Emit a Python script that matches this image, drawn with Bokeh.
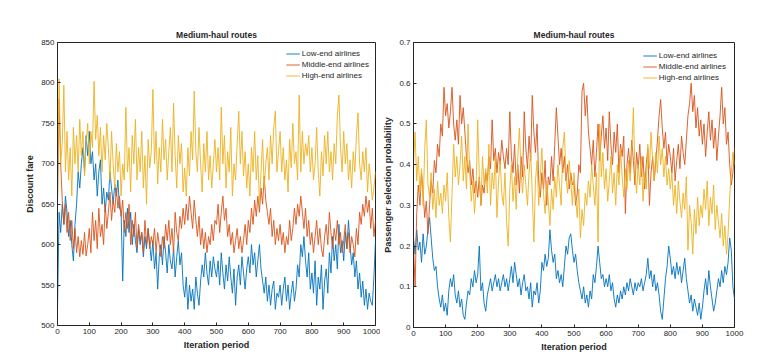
from bokeh.plotting import figure
from bokeh.layouts import row
from bokeh.models import Range1d, FixedTicker, NumeralTickFormatter
from bokeh.embed import file_html
from bokeh.resources import INLINE

# iteration grid (every 5 iterations)
iterations = list(range(0, 1001, 5))

# ---------- Left panel: discount fare ----------
fare_low = [
    520, 640, 615, 650, 625, 660, 640, 610, 630, 600, 580, 625, 650, 690, 670, 700, 720, 690, 735, 710,
    740, 700, 715, 680, 700, 660, 690, 705, 650, 670, 640, 665, 655, 690, 670, 650, 675, 660, 680, 645,
    640, 555, 630, 610, 645, 615, 640, 600, 625, 605, 590, 620, 600, 615, 585, 610, 595, 620, 600, 580,
    605, 570, 590, 545, 585, 600, 575, 610, 590, 565, 600, 580, 570, 595, 560, 585, 605, 575, 590, 550,
    535, 560, 520, 550, 530, 545, 520, 560, 540, 525, 555, 575, 560, 590, 565, 550, 580, 560, 585, 570,
    560, 580, 550, 590, 565, 545, 575, 555, 585, 560, 540, 570, 525, 560, 575, 550, 585, 565, 545, 570,
    585, 565, 600, 575, 590, 560, 580, 600, 570, 555, 540, 560, 530, 550, 525, 545, 555, 520, 540, 535,
    550, 525, 545, 560, 530, 550, 520, 540, 555, 530, 545, 575, 560, 600, 585, 610, 580, 560, 590, 545,
    565, 540, 580, 525, 560, 545, 575, 520, 555, 570, 540, 590, 565, 610, 580, 600, 570, 625, 590, 605,
    580, 615, 595, 630, 600, 575, 590, 560, 580, 545, 565, 535, 555, 525, 545, 520, 540, 530, 525, 560,
    605,
]
fare_mid = [
    650, 780, 700, 655, 625, 650, 615, 640, 605, 630, 595, 620, 590, 610, 585, 605, 588, 615, 586, 600,
    620, 590, 640, 605, 630, 595, 645, 610, 625, 600, 650, 620, 640, 665, 630, 655, 640, 670, 645, 660,
    635, 655, 615, 640, 620, 650, 600, 630, 610, 640, 595, 625, 605, 615, 590, 630, 600, 620, 595, 610,
    600, 620, 590, 615, 600, 585, 610, 595, 625, 605, 630, 600, 620, 590, 640, 615, 605, 635, 620, 645,
    625, 650, 630, 660, 640, 620, 655, 630, 610, 635, 600, 620, 595, 615, 590, 610, 600, 625, 605, 630,
    625, 650, 615, 640, 660, 630, 645, 610, 625, 600, 615, 590, 605, 620, 595, 610, 590, 605, 625, 600,
    630, 615, 645, 625, 655, 635, 660, 640, 670, 650, 685, 655, 640, 625, 645, 610, 630, 600, 620, 605,
    625, 600, 615, 590, 610, 600, 630, 605, 620, 645, 625, 650, 635, 660, 640, 620, 645, 610, 630, 600,
    615, 590, 610, 630, 600, 620, 595, 585, 610, 625, 600, 640, 615, 595, 620, 605, 630, 600, 615, 590,
    605, 625, 595, 615, 590, 610, 600, 585, 620, 600, 640, 625, 650, 635, 660, 640, 655, 620, 645, 610,
    630,
]
fare_high = [
    660, 805, 700, 725, 797, 690, 740, 680, 720, 660, 745, 700, 735, 690, 755, 710, 740, 685, 725, 750,
    700, 740, 720, 802, 730, 760, 710, 745, 690, 735, 705, 750, 720, 680, 740, 700, 670, 725, 690, 715,
    660, 700, 680, 770, 690, 720, 665, 735, 700, 755, 680, 720, 690, 740, 670, 710, 650, 730, 695, 715,
    792, 700, 740, 675, 720, 690, 755, 705, 730, 680, 715, 745, 690, 775, 710, 670, 735, 700, 725, 665,
    695, 660, 720, 685, 740, 705, 790, 715, 690, 745, 700, 665, 725, 690, 740, 680, 710, 670, 700, 730,
    690, 720, 680, 770, 700, 735, 670, 715, 690, 745, 660, 700, 680, 725, 765, 700, 740, 685, 715, 670,
    700, 660, 720, 690, 740, 680, 710, 650, 690, 730, 670, 700, 720, 680, 735, 700, 745, 765, 690, 715,
    740, 690, 720, 680, 705, 665, 730, 695, 750, 700, 715, 680, 785, 690, 740, 700, 725, 710, 735, 690,
    720, 680, 700, 745, 690, 660, 715, 685, 735, 700, 740, 690, 715, 680, 725, 700, 760, 785, 720, 690,
    740, 700, 725, 680, 705, 670, 715, 690, 735, 763, 700, 680, 715, 690, 720, 665, 700, 680, 655, 670,
    690,
]

# ---------- Right panel: passenger selection probability ----------
prob_low = [
    0.22, 0.18, 0.24, 0.19, 0.21, 0.16, 0.23, 0.18, 0.20, 0.24, 0.27, 0.22, 0.17, 0.14, 0.15, 0.10, 0.07, 0.05, 0.08, 0.04,
    0.06, 0.03, 0.09, 0.12, 0.10, 0.13, 0.08, 0.06, 0.09, 0.05, 0.07, 0.03, 0.02, 0.06, 0.09, 0.08, 0.12, 0.10, 0.14, 0.11,
    0.13, 0.20, 0.09, 0.11, 0.06, 0.04, 0.08, 0.10, 0.12, 0.09, 0.11, 0.13, 0.10, 0.12, 0.09, 0.11, 0.13, 0.10, 0.12, 0.09,
    0.12, 0.15, 0.11, 0.16, 0.13, 0.10, 0.12, 0.08, 0.11, 0.13, 0.09, 0.10, 0.07, 0.11, 0.05, 0.09, 0.08, 0.11, 0.06, 0.09,
    0.16, 0.14, 0.18, 0.15, 0.17, 0.24, 0.19, 0.16, 0.18, 0.12, 0.14, 0.11, 0.13, 0.10, 0.15, 0.20, 0.18, 0.22, 0.23, 0.19,
    0.16, 0.18, 0.14, 0.11, 0.09, 0.07, 0.10, 0.06, 0.08, 0.05, 0.09, 0.07, 0.13, 0.11, 0.15, 0.20, 0.16, 0.12, 0.13, 0.10,
    0.12, 0.10, 0.13, 0.09, 0.11, 0.07, 0.05, 0.08, 0.06, 0.09, 0.07, 0.10, 0.08, 0.11, 0.09, 0.12, 0.10, 0.08, 0.11, 0.09,
    0.11, 0.10, 0.12, 0.09, 0.11, 0.13, 0.17, 0.12, 0.14, 0.10, 0.13, 0.09, 0.11, 0.08, 0.04, 0.02, 0.07, 0.12, 0.15, 0.20,
    0.17, 0.13, 0.15, 0.12, 0.16, 0.13, 0.15, 0.11, 0.14, 0.17, 0.12, 0.09, 0.06, 0.08, 0.04, 0.07, 0.05, 0.03, 0.06, 0.02,
    0.05, 0.09, 0.12, 0.08, 0.14, 0.10, 0.07, 0.04, 0.06, 0.09, 0.12, 0.10, 0.14, 0.11, 0.15, 0.13, 0.16, 0.22, 0.19, 0.10,
    0.07,
]
prob_mid = [
    0.20, 0.10, 0.28, 0.35, 0.30, 0.38, 0.33, 0.27, 0.31, 0.23, 0.30, 0.36, 0.33, 0.41, 0.38, 0.45, 0.42, 0.50, 0.47, 0.59,
    0.52, 0.55, 0.49, 0.53, 0.59, 0.50, 0.46, 0.51, 0.45, 0.57, 0.50, 0.54, 0.48, 0.42, 0.38, 0.41, 0.35, 0.39, 0.33, 0.36,
    0.32, 0.37, 0.30, 0.35, 0.33, 0.38, 0.36, 0.42, 0.39, 0.51, 0.41, 0.44, 0.38, 0.43, 0.40, 0.46, 0.42, 0.39, 0.44, 0.40,
    0.53, 0.42, 0.38, 0.45, 0.35, 0.40, 0.33, 0.42, 0.37, 0.53, 0.44, 0.39, 0.47, 0.41, 0.57, 0.48, 0.43, 0.50, 0.36, 0.32,
    0.38, 0.34, 0.41, 0.30, 0.37, 0.35, 0.42, 0.36, 0.45, 0.54, 0.47, 0.40, 0.44, 0.38, 0.42, 0.36, 0.40, 0.34, 0.38, 0.35,
    0.36, 0.30, 0.33, 0.40, 0.38, 0.58, 0.60, 0.52, 0.57, 0.48, 0.44, 0.40, 0.46, 0.37, 0.43, 0.50, 0.41, 0.47, 0.52, 0.44,
    0.49, 0.41, 0.53, 0.45, 0.40, 0.48, 0.43, 0.50, 0.38, 0.45, 0.42, 0.47, 0.28, 0.40, 0.44, 0.38, 0.46, 0.41, 0.35, 0.43,
    0.39, 0.45, 0.37, 0.42, 0.34, 0.40, 0.44, 0.30, 0.38, 0.42, 0.36, 0.41, 0.46, 0.52, 0.56, 0.49, 0.44, 0.48, 0.40, 0.45,
    0.42, 0.38, 0.44, 0.36, 0.41, 0.45, 0.39, 0.47, 0.43, 0.40, 0.46, 0.52, 0.55, 0.60, 0.53, 0.57, 0.49, 0.54, 0.47, 0.51,
    0.45, 0.50, 0.42, 0.48, 0.53, 0.46, 0.51, 0.44, 0.49, 0.41, 0.47, 0.52, 0.59, 0.50, 0.54, 0.45, 0.48, 0.40, 0.35, 0.38,
    0.44,
]
prob_high = [
    0.40, 0.48, 0.36, 0.42, 0.33, 0.39, 0.30, 0.44, 0.51, 0.35, 0.32, 0.38, 0.29, 0.34, 0.27, 0.36, 0.30, 0.33, 0.28, 0.35,
    0.31, 0.38, 0.27, 0.21, 0.33, 0.45, 0.37, 0.42, 0.35, 0.40, 0.47, 0.36, 0.42, 0.34, 0.50, 0.38, 0.31, 0.36, 0.28, 0.34,
    0.51, 0.37, 0.30, 0.42, 0.35, 0.39, 0.33, 0.45, 0.30, 0.38, 0.34, 0.42, 0.27, 0.36, 0.41, 0.33, 0.30, 0.38, 0.26, 0.20,
    0.34, 0.40, 0.31, 0.37, 0.29, 0.42, 0.49, 0.38, 0.33, 0.40, 0.35, 0.30, 0.38, 0.43, 0.33, 0.21, 0.36, 0.41, 0.30, 0.37,
    0.44, 0.33, 0.28, 0.36, 0.31, 0.25, 0.34, 0.29, 0.37, 0.32, 0.40, 0.35, 0.30, 0.44, 0.48, 0.37, 0.33, 0.41, 0.36, 0.30,
    0.38, 0.32, 0.27, 0.34, 0.22, 0.29, 0.25, 0.33, 0.30, 0.36, 0.32, 0.40, 0.35, 0.30, 0.38, 0.21, 0.50, 0.37, 0.43, 0.34,
    0.39, 0.31, 0.36, 0.42, 0.33, 0.38, 0.30, 0.40, 0.35, 0.44, 0.37, 0.32, 0.39, 0.34, 0.41, 0.36, 0.43, 0.54, 0.38, 0.33,
    0.40, 0.35, 0.42, 0.31, 0.38, 0.34, 0.45, 0.39, 0.48, 0.41, 0.36, 0.43, 0.38, 0.47, 0.40, 0.44, 0.37, 0.42, 0.35, 0.39,
    0.34, 0.38, 0.30, 0.35, 0.28, 0.36, 0.31, 0.27, 0.33, 0.29, 0.37, 0.19, 0.30, 0.26, 0.18, 0.29, 0.23, 0.32, 0.25, 0.30,
    0.27, 0.34, 0.29, 0.36, 0.25, 0.32, 0.28, 0.35, 0.24, 0.30, 0.26, 0.22, 0.28, 0.20, 0.25, 0.18, 0.23, 0.32, 0.38, 0.43,
    0.40,
]

series_names = ["Low-end airlines", "Middle-end airlines", "High-end airlines"]
colors = ["#0072BD", "#D95319", "#EDB120"]
x_ticks = list(range(0, 1001, 100))
fare_ticks = list(range(500, 851, 50))
prob_ticks = [0, 0.1, 0.2, 0.3, 0.4, 0.5, 0.6, 0.7]

FONT = "Liberation Sans"
TXT = "#262626"


def style(p, ylabel, yticks):
    p.title.text_font = FONT
    p.title.text_font_size = "8.5px"
    p.title.text_font_style = "bold"
    p.title.text_color = TXT
    p.title.align = "center"
    p.title.standoff = 5
    p.xgrid.visible = False
    p.ygrid.visible = False
    p.outline_line_color = TXT
    p.outline_line_width = 1
    p.outline_line_alpha = 1
    p.xaxis.ticker = FixedTicker(ticks=x_ticks)
    p.yaxis.ticker = FixedTicker(ticks=yticks)
    p.xaxis.axis_label = "Iteration period"
    p.yaxis.axis_label = ylabel
    for ax in (p.xaxis[0], p.yaxis[0]):
        ax.major_tick_in = 3
        ax.major_tick_out = 0
        ax.minor_tick_line_color = None
        ax.axis_line_color = TXT
        ax.major_tick_line_color = TXT
        ax.major_label_text_font = FONT
        ax.major_label_text_font_size = "8px"
        ax.major_label_text_color = TXT
        ax.major_label_standoff = 3
        ax.axis_label_text_font = FONT
        ax.axis_label_text_font_size = "9px"
        ax.axis_label_text_font_style = "bold"
        ax.axis_label_text_color = TXT
        ax.axis_label_standoff = 3
    p.legend.location = "top_right"
    p.legend.border_line_color = None
    p.legend.background_fill_alpha = 0
    p.legend.label_text_font = FONT
    p.legend.label_text_font_size = "8px"
    p.legend.label_text_color = TXT
    p.legend.glyph_width = 14
    p.legend.glyph_height = 11
    p.legend.label_height = 11
    p.legend.label_standoff = 2
    p.legend.spacing = 0
    p.legend.padding = 2


p1 = figure(frame_width=318, frame_height=283, output_backend="svg", toolbar_location=None,
            title="Medium-haul routes", x_range=Range1d(0, 1000), y_range=Range1d(500, 850),
            min_border_left=57, min_border_right=5, min_border_top=42, min_border_bottom=29,
            background_fill_color="white", border_fill_color="white")
for vals, name, c in zip([fare_low, fare_mid, fare_high], series_names, colors):
    p1.line(iterations, vals, line_color=c, line_width=1, line_alpha=0.9, legend_label=name)
style(p1, "Discount fare", fare_ticks)
p1.legend.margin = 6

p2 = figure(frame_width=321, frame_height=285, output_backend="svg", toolbar_location=None,
            title="Medium-haul routes", x_range=Range1d(0, 1000), y_range=Range1d(0, 0.7),
            min_border_left=32, min_border_right=20, min_border_top=39, min_border_bottom=30,
            background_fill_color="white", border_fill_color="white")
for vals, name, c in zip([prob_low, prob_mid, prob_high], series_names, colors):
    p2.line(iterations, vals, line_color=c, line_width=1, line_alpha=0.9, legend_label=name)
style(p2, "Passenger selection probability", prob_ticks)
p2.yaxis.formatter = NumeralTickFormatter(format="0.[0]")
p2.legend.margin = 8

layout = row(p1, p2)
open("out.html", "w").write(file_html(layout, INLINE))
